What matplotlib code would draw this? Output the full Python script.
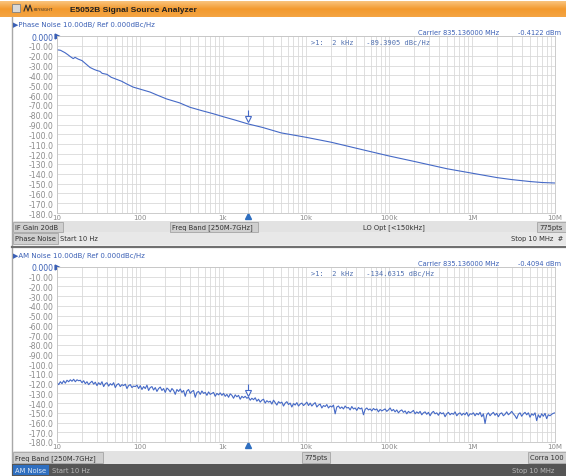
import matplotlib.pyplot as plt
import numpy as np
from matplotlib.ticker import LogLocator, NullFormatter, FixedLocator
from matplotlib.transforms import offset_copy
from matplotlib.colors import LinearSegmentedColormap

# ---- data ----
pn_freq = [10, 11, 12.5, 13.5, 14.5, 15.7, 16.5, 18, 20, 22, 25, 28, 30, 33, 35, 40,
           45, 52, 60, 70, 83, 100, 132, 160, 209, 300, 400, 560, 760, 1000, 1400,
           2000, 3000, 5000, 10000, 20000, 50000, 100000, 200000, 500000, 1e6,
           2e6, 3e6, 5e6, 7e6, 1e7]
pn_dbc = [-14, -14.5, -17, -19, -21, -23, -21.7, -23.5, -25, -28, -32, -34, -35, -36,
          -38, -39, -42, -44, -46, -49, -52, -54, -57, -60, -64, -68, -72.5, -76, -79,
          -82, -85.5, -89.4, -93, -98.5, -103, -108, -116, -122, -127.5, -135, -139.5,
          -144, -146, -148, -149, -149.5]

# AM noise trace, 50 readings per decade, 10 Hz .. 10 MHz
am_noise = [
    # 10 Hz - 100 Hz
    -119, -121, -118, -120, -117, -119.5, -116.5, -118, -116, -117.5, -115.5, -118, -116,
    -117, -116.5, -119, -117, -120, -118, -121, -119, -117.5, -120.5, -118.5, -122, -119,
    -121, -118, -123, -120, -119, -122.5, -120, -121.5, -119, -124, -121, -120, -123, -121,
    -122, -120.5, -125, -122, -121, -124, -122.5, -123, -121.5, -125,
    # 100 Hz - 1 kHz
    -122, -126, -123, -125, -121.5, -127, -124, -123, -126.5, -124, -128, -125, -123.5,
    -127, -125, -129, -124.5, -126, -128.5, -125, -127, -131, -126, -128, -125.5, -129,
    -127, -133, -127.5, -126, -130, -128, -127, -134, -129, -128, -131, -127.5, -130, -129,
    -132, -128.5, -131, -130, -129, -133, -130, -131.5, -129.5, -132,
    # 1 kHz - 10 kHz
    -130, -133, -131, -134, -130.5, -132, -135, -131.5, -133.5, -132, -136, -133, -134.5,
    -133, -135, -134, -137, -135, -136.5, -134.5, -138, -136, -139, -137, -136, -140,
    -137.5, -139, -138, -141, -137, -139.5, -142, -138.5, -140, -139, -143, -140, -138.5,
    -141.5, -140, -144, -140.5, -142, -139.5, -143, -141, -140, -142.5, -141,
    # 10 kHz - 100 kHz
    -139, -142.5, -140, -143, -141, -139.5, -144, -142, -141, -145, -142.5, -143.5, -141.5,
    -145, -143, -144, -142, -151, -144, -143, -145.5, -144, -146, -143, -145, -144.5, -147,
    -143.5, -146, -145, -147.5, -144.5, -146, -145, -152, -146.5, -145, -147, -146, -148,
    -145.5, -147, -146, -149, -146.5, -148, -147, -146, -148.5, -147,
    # 100 kHz - 1 MHz
    -145, -148, -146.5, -149, -147, -150, -148, -147, -149.5, -148, -151, -148.5, -150,
    -149, -147.5, -151, -149, -150.5, -148.5, -152, -150, -149, -151.5, -149.5, -153, -150,
    -148.5, -151, -150, -152.5, -149.5, -151, -150, -154, -151, -149.5, -152, -150.5,
    -151.5, -149, -153, -151, -150, -152.5, -150.5, -152, -149.5, -153.5, -151, -151.5,
    # 1 MHz - 10 MHz
    -150, -153, -150.5, -152, -149.5, -154, -151, -161, -152, -150, -153, -151, -149.5,
    -152.5, -150.5, -154, -151, -150, -153, -151.5, -149, -152, -150.5, -148.5, -151, -153,
    -156, -151.5, -150, -153.5, -151, -149.5, -152, -150, -154.5, -151, -152.5, -150, -158,
    -152, -155, -151, -153.5, -150.5, -156, -152, -153, -151.5, -150.5, -150]
am_freq = np.logspace(1, 7, len(am_noise))

marker_freq = 2000
pn_marker = -89.3905
am_marker = -134.6315

y_ticks = list(range(0, -190, -10))
y_labels = ['0.000'] + [f'{v:.2f}' if v > -100 else f'{v:.1f}' for v in y_ticks[1:]]
x_ticks = [10, 100, 1e3, 1e4, 1e5, 1e6, 1e7]
x_labels = ['10', '100', '1k', '10k', '100k', '1M', '10M']

TRACE = '#4569c6'
TXT_BLUE = '#3a5fb5'
GRID = '#d9d9d9'
STAT = 4.9
W, H = 566, 477

fig = plt.figure(figsize=(W / 100, H / 100), dpi=100)
fig.patch.set_facecolor('white')

# background / chrome drawn in pixel coordinates
bg = fig.add_axes([0, 0, 1, 1], zorder=0)
bg.set_xlim(0, W)
bg.set_ylim(H, 0)
bg.axis('off')

grad = np.linspace(0, 1, 16).reshape(-1, 1)
orange = LinearSegmentedColormap.from_list('o', ['#f9c27a', '#f39a2e', '#f4a443'])
bg.imshow(grad, cmap=orange, extent=[0, W, 18, 2], aspect='auto', zorder=1)
bg.add_patch(plt.Rectangle((12, 5), 8, 8, fc='#d8d8d8', ec='#808080', lw=0.6, zorder=2))
bg.plot([24, 26, 28, 30, 32], [12, 6, 12, 6, 12], color='#303030', lw=0.8, zorder=2)
bg.text(34, 10, 'KEYSIGHT', fontsize=2.8, color='#303030', va='center', zorder=3)
bg.text(70, 10, 'E5052B Signal Source Analyzer', fontsize=6.0, fontweight='bold',
        family=['Liberation Sans', 'DejaVu Sans'], color='#202020', va='center',
        zorder=3)

# left window frame
bg.plot([12, 12], [18, 477], color='#a8a8a8', lw=1.0, zorder=2)


def status_cell(x0, x1, y0, y1, text, fc='#cfcfcf', tc='#303030', ec='#9a9a9a'):
    bg.add_patch(plt.Rectangle((x0, y0), x1 - x0, y1 - y0, fc=fc, ec=ec, lw=0.5, zorder=3))
    bg.text(x0 + 2, (y0 + y1) / 2, text, fontsize=STAT, color=tc, va='center', zorder=4)


# top panel status rows
bg.add_patch(plt.Rectangle((13, 222), W - 13, 11, fc='#e2e2e2', ec='none', zorder=2))
bg.add_patch(plt.Rectangle((13, 233), W - 13, 13, fc='#e8e8e8', ec='none', zorder=2))
status_cell(13, 63, 223, 232.5, 'IF Gain 20dB')
status_cell(170, 258, 223, 232.5, 'Freq Band [250M-7GHz]')
bg.text(363, 228, 'LO Opt [<150kHz]', fontsize=STAT, color='#303030', va='center', zorder=4)
status_cell(537, 566, 223, 232.5, '775pts')
status_cell(13, 58, 234, 245, 'Phase Noise')
bg.text(60, 239.5, 'Start 10 Hz', fontsize=STAT, color='#303030', va='center', zorder=4)
bg.text(511, 239.5, 'Stop 10 MHz  #', fontsize=STAT, color='#303030', va='center', zorder=4)
bg.plot([12, W], [248, 248], color='#707070', lw=1.6, zorder=3)

# bottom panel status rows
bg.add_patch(plt.Rectangle((13, 452), W - 13, 13, fc='#e2e2e2', ec='none', zorder=2))
status_cell(13, 103, 453, 464, 'Freq Band [250M-7GHz]')
status_cell(302, 330, 453, 464, '775pts')
status_cell(528, 566, 453, 464, 'Corra 100')
bg.add_patch(plt.Rectangle((12, 465), W - 12, 12, fc='#555555', ec='none', zorder=2))
bg.add_patch(plt.Rectangle((13, 466), 36, 10, fc='#2f6fc0', ec='none', zorder=3))
bg.text(15, 471, 'AM Noise', fontsize=STAT, color='#dfe8f5', va='center', zorder=4)
bg.text(52, 471, 'Start 10 Hz', fontsize=STAT, color='#b8b8b8', va='center', zorder=4)
bg.text(512, 471, 'Stop 10 MHz', fontsize=STAT, color='#b8b8b8', va='center', zorder=4)


def panel(top_px, bot_px, freq, vals, name, carrier_pwr, mval):
    ax = fig.add_axes([57 / W, 1 - bot_px / H, 498 / W, (bot_px - top_px) / H], zorder=5)
    ax.set_xscale('log')
    ax.set_xlim(10, 1e7)
    ax.set_ylim(-180, 0)
    ax.plot(freq, vals, color=TRACE, lw=0.8)
    ax.xaxis.set_major_locator(FixedLocator(x_ticks))
    ax.xaxis.set_minor_locator(LogLocator(base=10, subs=range(2, 10)))
    ax.xaxis.set_minor_formatter(NullFormatter())
    ax.set_xticklabels(x_labels)
    ax.set_yticks(y_ticks)
    ax.set_yticklabels(y_labels)
    ax.tick_params(which='both', length=0, labelcolor='#8c8c8c')
    ax.tick_params(axis='y', labelsize=5.6, pad=2.5)
    ax.tick_params(axis='x', labelsize=5.0, pad=0.8)
    ax.get_yticklabels()[0].set_color(TXT_BLUE)
    ax.grid(which='both', color=GRID, lw=0.6)
    for s in ax.spines.values():
        s.set_color('#c4c4c4')
        s.set_linewidth(0.6)
    # marker 1 on trace
    off = offset_copy(ax.transData, fig=fig, x=0, y=5, units='dots')
    ax.plot([marker_freq], [mval], marker='v', ms=5, mfc='white', mec=TRACE, mew=0.8,
            transform=off)
    off2 = offset_copy(ax.transData, fig=fig, x=0, y=11, units='dots')
    ax.plot([marker_freq], [mval], marker='|', ms=5, mec=TRACE, mew=0.8, transform=off2)
    ax.plot([marker_freq], [-183], marker='^', ms=4.5, color='#2f6fc0', clip_on=False)

    # header texts
    bg.text(13, top_px - 12, '\u25B6' + name + ' 10.00dB/ Ref 0.000dBc/Hz', fontsize=5.0,
            color=TXT_BLUE, va='center', zorder=4)
    bg.text(418, top_px - 4, 'Carrier 835.136000 MHz', fontsize=4.8, color=TXT_BLUE,
            va='center', zorder=4)
    bg.text(518, top_px - 4, carrier_pwr, fontsize=4.8, color=TXT_BLUE, va='center',
            zorder=4)
    ax.text(0.51, 0.965, f'>1:  2 kHz   {mval:.4f} dBc/Hz', transform=ax.transAxes,
            fontsize=5.0, family='DejaVu Sans Mono', color='#5070b0', va='center')
    bg.plot([57], [top_px], marker='>', ms=3.5, color=TXT_BLUE, zorder=6, clip_on=False)
    return ax


panel(37, 214, pn_freq, pn_dbc, 'Phase Noise', '-0.4122 dBm', pn_marker)
panel(268, 443, am_freq, am_noise, 'AM Noise', '-0.4094 dBm', am_marker)

fig.savefig('out.png', dpi=100)
